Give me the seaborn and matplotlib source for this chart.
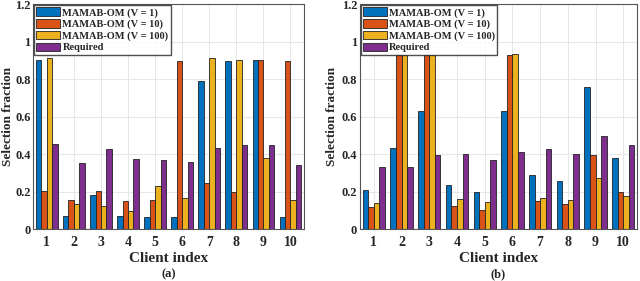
import pandas as pd
import matplotlib.pyplot as plt
import seaborn as sns

# --- data ---
clients = [str(i) for i in range(1, 11)]
series = ['MAMAB-OM (V = 1)', 'MAMAB-OM (V = 10)', 'MAMAB-OM (V = 100)', 'Required']

# panel (a)
a_v1 = [0.904, 0.068, 0.180, 0.070, 0.066, 0.063, 0.789, 0.898, 0.900, 0.066]
a_v10 = [0.202, 0.154, 0.204, 0.148, 0.154, 0.898, 0.246, 0.195, 0.900, 0.898]
a_v100 = [0.911, 0.134, 0.121, 0.096, 0.232, 0.166, 0.911, 0.900, 0.379, 0.157]
a_req = [0.454, 0.355, 0.429, 0.373, 0.370, 0.359, 0.430, 0.450, 0.446, 0.343]

# panel (b)
b_v1 = [0.207, 0.434, 0.629, 0.236, 0.195, 0.629, 0.286, 0.255, 0.757, 0.379]
b_v10 = [0.118, 0.930, 0.930, 0.123, 0.102, 0.929, 0.150, 0.132, 0.395, 0.198]
b_v100 = [0.138, 0.930, 0.930, 0.159, 0.145, 0.932, 0.166, 0.154, 0.270, 0.177]
b_req = [0.332, 0.329, 0.395, 0.398, 0.371, 0.411, 0.425, 0.400, 0.498, 0.448]

colors = ['#0072BD', '#D95319', '#EDB120', '#7E2F8E']


def to_long(cols):
    rows = []
    for name, vals in zip(series, cols):
        for c, v in zip(clients, vals):
            rows.append({'client': c, 'series': name, 'value': v})
    return pd.DataFrame(rows)


df_a = to_long([a_v1, a_v10, a_v100, a_req])
df_b = to_long([b_v1, b_v10, b_v100, b_req])

sns.set_theme(style="whitegrid")
plt.rcParams['font.family'] = ['Liberation Serif', 'DejaVu Serif']
plt.rcParams['font.weight'] = 'bold'

fig = plt.figure(figsize=(6.4, 2.81), dpi=100)
ax1 = fig.add_axes([0.052, 0.185, 0.423, 0.80])
ax2 = fig.add_axes([0.5625, 0.185, 0.433, 0.80])

for ax, df, cap, lx in [(ax1, df_a, '(a)', -0.072), (ax2, df_b, '(b)', -0.078)]:
    sns.barplot(data=df, x='client', y='value', hue='series', palette=colors,
                saturation=1, width=0.8, edgecolor='#222222', linewidth=0.6, ax=ax)
    ax.set_xlim(-0.5, 9.5)
    ax.set_ylim(0, 1.2)
    ax.set_yticks([0, 0.2, 0.4, 0.6, 0.8, 1.0, 1.2])
    ax.set_yticklabels(['0', '0.2', '0.4', '0.6', '0.8', '1', '1.2'])
    ax.tick_params(length=0)
    ax.tick_params(axis='x', labelsize=10, pad=5)
    ax.tick_params(axis='y', labelsize=9, pad=2)
    for lab in ax.get_xticklabels() + ax.get_yticklabels():
        lab.set_fontweight('bold')
    ax.set_xlabel('Client index', fontsize=11, fontweight='bold', labelpad=2)
    ax.set_ylabel('Selection fraction', fontsize=9.5, fontweight='bold')
    ax.yaxis.set_label_coords(lx, 0.5)
    ax.grid(True, color='#e6e6e6', linewidth=0.7)
    ax.set_axisbelow(True)
    for sp in ax.spines.values():
        sp.set_visible(True)
        sp.set_color('#555555')
        sp.set_linewidth(0.8)
    leg = ax.legend(loc='upper left', fontsize=7.5, frameon=True, fancybox=False,
                    handlelength=2.3, handleheight=0.9, borderpad=0.2,
                    labelspacing=0.15, handletextpad=0.2, borderaxespad=0.1)
    leg.get_frame().set_edgecolor('#222222')
    leg.get_frame().set_linewidth(1.0)
    for t in leg.get_texts():
        t.set_fontweight('bold')
    pos = ax.get_position()
    fig.text(pos.x0 + pos.width / 2, 0.025, cap, ha='center', va='center',
             fontsize=9, fontweight='bold')

fig.savefig('out.png', dpi=100)
